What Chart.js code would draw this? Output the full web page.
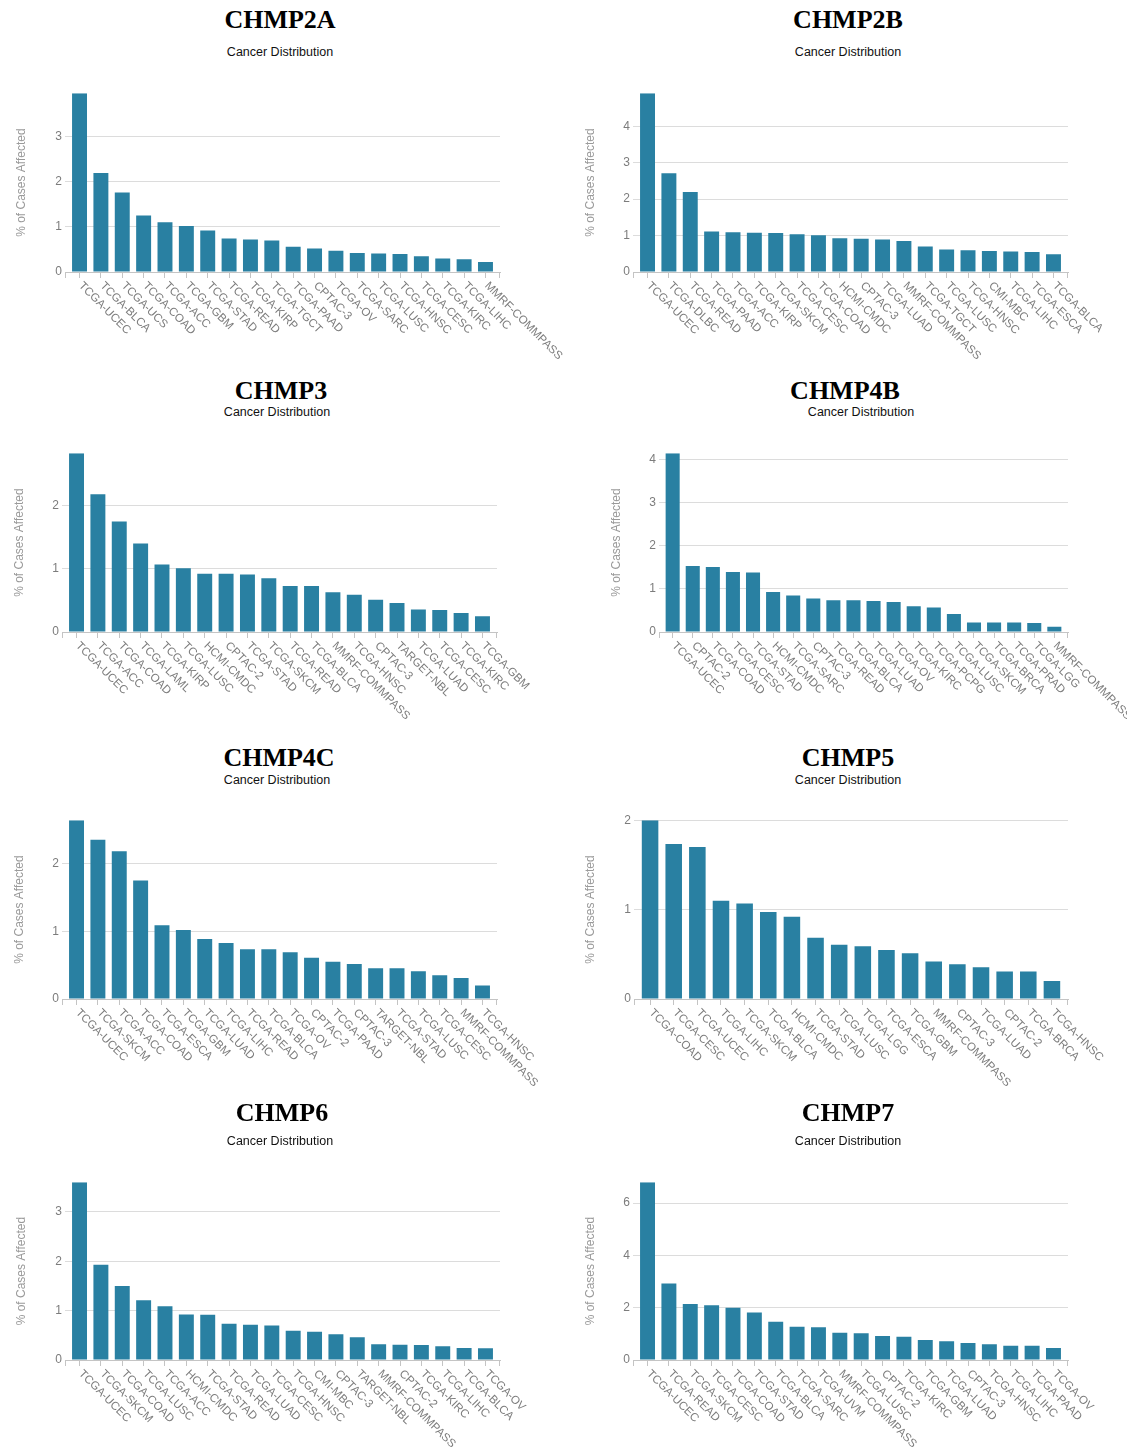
<!DOCTYPE html>
<html>
<head>
<meta charset="utf-8">
<script src="https://cdn.jsdelivr.net/npm/chart.js@4.4.1/dist/chart.umd.min.js"></script>
<style>
  body { margin: 0; background: #fff; width: 1127px; height: 1454px; position: relative; overflow: hidden; }
  .title { position: absolute; font: bold 26px "Liberation Serif", "Times New Roman", serif; line-height: 26px; white-space: nowrap; transform: translateX(-50%); color: #000; }
  .sub { position: absolute; font: 12.5px "Liberation Sans", Arial, sans-serif; line-height: 13px; white-space: nowrap; transform: translateX(-50%); color: #111; }
  canvas { position: absolute; }
</style>
</head>
<body>
<script>
// ---- data ----
const chmp2aLabels = ['TCGA-UCEC', 'TCGA-BLCA', 'TCGA-UCS', 'TCGA-COAD', 'TCGA-ACC', 'TCGA-GBM', 'TCGA-STAD', 'TCGA-READ', 'TCGA-KIRP', 'TCGA-TGCT',
    'TCGA-PAAD', 'CPTAC-3', 'TCGA-OV', 'TCGA-SARC', 'TCGA-LUSC', 'TCGA-HNSC', 'TCGA-CESC', 'TCGA-KIRC', 'TCGA-LIHC', 'MMRF-COMMPASS'];
const chmp2aValues = [3.96, 2.19, 1.76, 1.25, 1.10, 1.02, 0.92, 0.74, 0.72, 0.70, 0.56, 0.52, 0.47, 0.42, 0.41, 0.40, 0.35, 0.30, 0.28, 0.22];

const chmp2bLabels = ['TCGA-UCEC', 'TCGA-DLBC', 'TCGA-READ', 'TCGA-PAAD', 'TCGA-ACC', 'TCGA-KIRP', 'TCGA-SKCM', 'TCGA-CESC', 'TCGA-COAD', 'HCMI-CMDC',
    'CPTAC-3', 'TCGA-LUAD', 'MMRF-COMMPASS', 'TCGA-TGCT', 'TCGA-LUSC', 'TCGA-HNSC', 'CMI-MBC', 'TCGA-LIHC', 'TCGA-ESCA', 'TCGA-BLCA'];
const chmp2bValues = [4.91, 2.71, 2.20, 1.11, 1.09, 1.08, 1.07, 1.04, 1.01, 0.93, 0.91, 0.89, 0.85, 0.70, 0.62, 0.60, 0.58, 0.56, 0.55, 0.49];

const chmp3Labels = ['TCGA-UCEC', 'TCGA-ACC', 'TCGA-COAD', 'TCGA-LAML', 'TCGA-KIRP', 'TCGA-LUSC', 'HCMI-CMDC', 'CPTAC-2', 'TCGA-STAD', 'TCGA-SKCM',
    'TCGA-READ', 'TCGA-BLCA', 'MMRF-COMMPASS', 'TCGA-HNSC', 'CPTAC-3', 'TARGET-NBL', 'TCGA-LUAD', 'TCGA-CESC', 'TCGA-KIRC', 'TCGA-GBM'];
const chmp3Values = [2.83, 2.18, 1.75, 1.40, 1.07, 1.01, 0.92, 0.92, 0.91, 0.85, 0.73, 0.73, 0.63, 0.59, 0.51, 0.46, 0.355, 0.35, 0.30, 0.25];

const chmp4bLabels = ['TCGA-UCEC', 'CPTAC-2', 'TCGA-COAD', 'TCGA-CESC', 'TCGA-STAD', 'HCMI-CMDC', 'TCGA-SARC', 'CPTAC-3', 'TCGA-READ', 'TCGA-BLCA',
    'TCGA-LUAD', 'TCGA-OV', 'TCGA-KIRC', 'TCGA-PCPG', 'TCGA-LUSC', 'TCGA-SKCM', 'TCGA-BRCA', 'TCGA-PRAD', 'TCGA-LGG', 'MMRF-COMMPASS'];
const chmp4bValues = [4.155, 1.535, 1.51, 1.395, 1.38, 0.93, 0.85, 0.78, 0.74, 0.74, 0.72, 0.70, 0.60, 0.57, 0.42, 0.22, 0.22, 0.22, 0.21, 0.12];

const chmp4cLabels = ['TCGA-UCEC', 'TCGA-SKCM', 'TCGA-ACC', 'TCGA-COAD', 'TCGA-ESCA', 'TCGA-GBM', 'TCGA-LUAD', 'TCGA-LIHC', 'TCGA-READ', 'TCGA-BLCA',
    'TCGA-OV', 'CPTAC-2', 'TCGA-PAAD', 'CPTAC-3', 'TARGET-NBL', 'TCGA-STAD', 'TCGA-LUSC', 'TCGA-CESC', 'MMRF-COMMPASS', 'TCGA-HNSC'];
const chmp4cValues = [2.64, 2.35, 2.18, 1.75, 1.09, 1.02, 0.886, 0.827, 0.733, 0.733, 0.69, 0.61, 0.55, 0.515, 0.455, 0.455, 0.41, 0.35, 0.31, 0.20];

const chmp5Labels = ['TCGA-COAD', 'TCGA-CESC', 'TCGA-UCEC', 'TCGA-LIHC', 'TCGA-SKCM', 'TCGA-BLCA', 'HCMI-CMDC', 'TCGA-STAD', 'TCGA-LUSC', 'TCGA-LGG',
    'TCGA-ESCA', 'TCGA-GBM', 'MMRF-COMMPASS', 'CPTAC-3', 'TCGA-LUAD', 'CPTAC-2', 'TCGA-BRCA', 'TCGA-HNSC'];
const chmp5Values = [2.00, 1.734, 1.70, 1.10, 1.067, 0.974, 0.921, 0.685, 0.607, 0.59, 0.547, 0.513, 0.42, 0.39, 0.356, 0.307, 0.307, 0.20];

const chmp6Labels = ['TCGA-UCEC', 'TCGA-SKCM', 'TCGA-COAD', 'TCGA-LUSC', 'TCGA-ACC', 'HCMI-CMDC', 'TCGA-STAD', 'TCGA-READ', 'TCGA-LUAD', 'TCGA-CESC',
    'TCGA-HNSC', 'CMI-MBC', 'CPTAC-3', 'TARGET-NBL', 'MMRF-COMMPASS', 'CPTAC-2', 'TCGA-KIRC', 'TCGA-LIHC', 'TCGA-BLCA', 'TCGA-OV'];
const chmp6Values = [3.60, 1.93, 1.50, 1.21, 1.09, 0.92, 0.917, 0.735, 0.715, 0.70, 0.593, 0.573, 0.52, 0.46, 0.317, 0.31, 0.303, 0.276, 0.243, 0.236];

const chmp7Labels = ['TCGA-UCEC', 'TCGA-READ', 'TCGA-SKCM', 'TCGA-CESC', 'TCGA-COAD', 'TCGA-STAD', 'TCGA-BLCA', 'TCGA-SARC', 'TCGA-UVM', 'MMRF-COMMPASS',
    'TCGA-LUSC', 'CPTAC-2', 'TCGA-KIRC', 'TCGA-GBM', 'TCGA-LUAD', 'CPTAC-3', 'TCGA-HNSC', 'TCGA-LIHC', 'TCGA-PAAD', 'TCGA-OV'];
const chmp7Values = [6.80, 2.93, 2.14, 2.09, 2.00, 1.82, 1.465, 1.27, 1.25, 1.045, 1.02, 0.917, 0.89, 0.764, 0.713, 0.65, 0.60, 0.548, 0.548, 0.46];

const yTickStep = [1, 1, 1, 1, 1, 1, 1, 2];

// ---- look ----
const BAR = '#2980a2';
const GRID = '#dcdcdc';
const AXIS = '#c4c4c4';
const TICK_TXT = '#7c7c7c';
const SANS = '"Liberation Sans", Arial, Helvetica, sans-serif';

// page placement of each panel (pixels)
const COLS = [{ left: 0, width: 580 }, { left: 563, width: 564 }];
const panels = [
    { name: 'CHMP2A', labels: chmp2aLabels, values: chmp2aValues, col: 0, tx: 280, ty: 20, sx: 280, sy: 53, top: 93, bottom: 272, x0: 65, x1: 500, yt: 22 },
    { name: 'CHMP2B', labels: chmp2bLabels, values: chmp2bValues, col: 1, tx: 848, ty: 20, sx: 848, sy: 53, top: 93, bottom: 272, x0: 633, x1: 1068, yt: 591 },
    { name: 'CHMP3', labels: chmp3Labels, values: chmp3Values, col: 0, tx: 281, ty: 391, sx: 277, sy: 413, top: 453, bottom: 632, x0: 62, x1: 497, yt: 20 },
    { name: 'CHMP4B', labels: chmp4bLabels, values: chmp4bValues, col: 1, tx: 845, ty: 391, sx: 861, sy: 413, top: 453, bottom: 632, x0: 659, x1: 1068, yt: 617 },
    { name: 'CHMP4C', labels: chmp4cLabels, values: chmp4cValues, col: 0, tx: 279, ty: 758, sx: 277, sy: 781, top: 820, bottom: 999, x0: 62, x1: 497, yt: 20 },
    { name: 'CHMP5', labels: chmp5Labels, values: chmp5Values, col: 1, tx: 848, ty: 758, sx: 848, sy: 781, top: 820, bottom: 999, x0: 634, x1: 1068, yt: 591 },
    { name: 'CHMP6', labels: chmp6Labels, values: chmp6Values, col: 0, tx: 282, ty: 1113, sx: 280, sy: 1142, top: 1182, bottom: 1360, x0: 65, x1: 500, yt: 22 },
    { name: 'CHMP7', labels: chmp7Labels, values: chmp7Values, col: 1, tx: 848, ty: 1113, sx: 848, sy: 1142, top: 1182, bottom: 1360, x0: 633, x1: 1068, yt: 591 }
];

const PAD_TOP = 10;
const X_AXIS_H = 100;
const OUTER = 0.68; // band padding outside first/last bar, in category steps

// category names hang from each tick, rotated 45deg clockwise;
// also the short outer ticks at both ends of the x axis
const diagLabels = {
    id: 'diagLabels',
    afterDraw(chart) {
        const xs = chart.scales.x;
        const area = chart.chartArea;
        const ctx = chart.ctx;
        ctx.save();
        ctx.strokeStyle = AXIS;
        ctx.lineWidth = 1;
        ctx.beginPath();
        [Math.round(area.left) + 0.5, Math.round(area.right) - 0.5].forEach(x => {
            ctx.moveTo(x, Math.round(xs.top));
            ctx.lineTo(x, Math.round(xs.top) + 6);
        });
        ctx.stroke();

        ctx.font = '11.5px ' + SANS;
        ctx.fillStyle = TICK_TXT;
        ctx.textAlign = 'left';
        ctx.textBaseline = 'middle';
        chart.data.labels.forEach((lab, i) => {
            ctx.save();
            ctx.translate(xs.getPixelForValue(i) + 1, xs.top + 12);
            ctx.rotate(Math.PI / 4);
            ctx.fillText(lab, 0, 0);
            ctx.restore();
        });
        ctx.restore();
    }
};

function addText(cls, text, x, y) {
    const d = document.createElement('div');
    d.className = cls;
    d.textContent = text;
    d.style.left = x + 'px';
    d.style.top = y + 'px';
    document.body.appendChild(d);
}

panels.forEach((p, k) => {
    addText('title', p.name, p.tx, p.ty - 13);
    addText('sub', 'Cancer Distribution', p.sx, p.sy - 7);

    const col = COLS[p.col];
    const h = (p.bottom - p.top) + PAD_TOP + X_AXIS_H;
    const cv = document.createElement('canvas');
    cv.width = col.width;
    cv.height = h;
    cv.style.left = col.left + 'px';
    cv.style.top = (p.top - PAD_TOP) + 'px';
    cv.style.width = col.width + 'px';
    cv.style.height = h + 'px';
    document.body.appendChild(cv);

    const padL = p.yt - col.left - 7.2;
    const yW = p.x0 - col.left - padL;
    const padR = col.left + col.width - p.x1;
    const n = p.labels.length;
    const idx = p.labels.map((_, i) => i);

    new Chart(cv.getContext('2d'), {
        type: 'bar',
        data: {
            labels: p.labels,
            datasets: [{
                data: p.values.map((v, i) => ({ x: i, y: v })),
                backgroundColor: BAR,
                borderWidth: 0,
                barPercentage: 0.7,
                categoryPercentage: 1
            }]
        },
        options: {
            responsive: false,
            animation: false,
            events: [],
            layout: { padding: { top: PAD_TOP, left: padL, right: padR, bottom: 0 } },
            plugins: { legend: { display: false }, tooltip: { enabled: false } },
            scales: {
                x: {
                    type: 'linear',
                    offset: false,
                    bounds: 'data',
                    min: -OUTER,
                    max: n - 1 + OUTER,
                    afterBuildTicks: s => { s.ticks = idx.map(v => ({ value: v })); },
                    afterFit: s => { s.height = X_AXIS_H; },
                    ticks: { display: false },
                    grid: { offset: false, drawOnChartArea: false, drawTicks: true, tickLength: 6, color: AXIS },
                    border: { display: true, color: AXIS }
                },
                y: {
                    bounds: 'data',
                    beginAtZero: true,
                    max: Math.max(...p.values),
                    afterFit: s => { s.width = yW; },
                    ticks: {
                        stepSize: yTickStep[k],
                        includeBounds: false,
                        padding: 3,
                        color: TICK_TXT,
                        font: { family: SANS, size: 12 }
                    },
                    grid: { color: GRID, drawTicks: false },
                    border: { display: false },
                    title: {
                        display: true,
                        text: '% of Cases Affected',
                        color: '#9a9a9a',
                        padding: 0,
                        font: { family: SANS, size: 12 }
                    }
                }
            }
        },
        plugins: [diagLabels]
    });
});
</script>
</body>
</html>
